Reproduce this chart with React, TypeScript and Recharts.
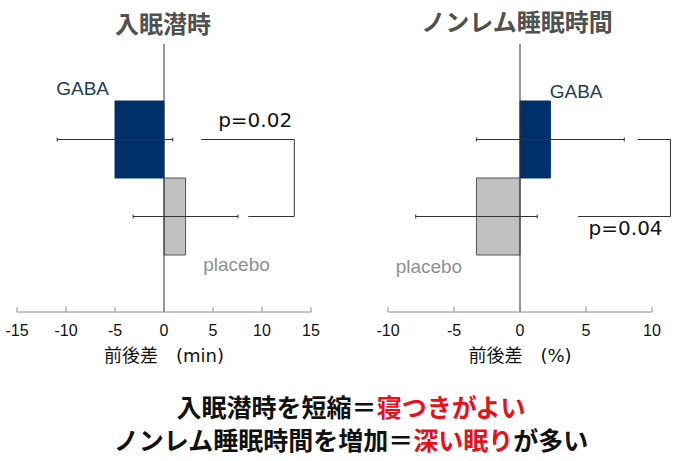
import React from 'react';
import { BarChart, Bar, XAxis, YAxis, Cell, ErrorBar, ReferenceLine, ReferenceDot } from 'recharts';

// ---- data ----
const categories = ['GABA', 'placebo'];
const latencyMeans = [-5.0, 2.2];
const latencyErrors = [5.9, 5.35];
const nremMeans = [2.3, -3.3];
const nremErrors = [5.6, 4.6];
const latencyTicks = [-15, -10, -5, 0, 5, 10, 15];
const nremTicks = [-10, -5, 0, 5, 10];
const latencyBracket = { topFrom: 3.8, bottomFrom: 8.6, side: 13.3 };
const nremBracket = { topFrom: 8.9, bottomFrom: 4.4, side: 11.4 };
const latencyP = 'p=0.02';
const nremP = 'p=0.04';
const latencyTitle = '入眠潜時';
const nremTitle = 'ノンレム睡眠時間';
const latencyAxisLabel = '前後差\u3000(min)';
const nremAxisLabel = '前後差\u3000(%)';

const NAVY = '#00306a';
const GREY_FILL = '#c0c0c0';
const LINE = '#333333';
const AXIS = '#8c8c8c';
const LATIN = "'Liberation Sans', Arial, sans-serif";
const PFONT = "'DejaVu Sans', 'Noto Sans CJK JP', sans-serif";
const CJK = "'Noto Sans CJK JP', sans-serif";

const colors = [NAVY, GREY_FILL];
const strokes = [NAVY, '#555555'];

function build(means: number[], errs: number[]) {
  return categories.map((name, i) => ({ name, value: means[i], err: errs[i] }));
}

const textLabel = (text: string, color: string, font: string, size: number, dy: number) =>
  (props: any) => {
    const vb = props.viewBox || {};
    return (
      <text x={vb.x} y={vb.y + dy} textAnchor="middle" fill={color} fontFamily={font} fontSize={size}>
        {text}
      </text>
    );
  };

interface PanelProps {
  data: any[];
  domain: [number, number];
  ticks: number[];
  margin: any;
  width: number;
  axisLabel: string;
  bracket: { topFrom: number; bottomFrom: number; side: number };
  pText: string;
  pX: number;
  pCat: string;
  pDy: number;
  gabaX: number;
  gabaDy: number;
  placeboX: number;
  placeboDy: number;
}

function Panel(p: PanelProps) {
  return (
    <BarChart
      width={p.width}
      height={380}
      data={p.data}
      layout="vertical"
      margin={p.margin}
      barCategoryGap={0}
      style={{ overflow: 'visible' }}
    >
      <XAxis
        type="number"
        domain={p.domain}
        ticks={p.ticks}
        interval={0}
        height={50}
        axisLine={{ stroke: AXIS }}
        tickLine={{ stroke: AXIS }}
        tickSize={-5}
        tickMargin={18}
        tick={{ fill: '#111', fontSize: 16, fontFamily: LATIN }}
        label={{ value: p.axisLabel, position: 'insideBottom', offset: 0, fill: '#111', fontSize: 18, fontFamily: PFONT }}
      />
      <YAxis type="category" dataKey="name" hide padding={{ top: 57, bottom: 57 }} />
      <ReferenceLine x={0} stroke={LINE} strokeWidth={1} />
      <Bar dataKey="value" isAnimationActive={false}>
        {p.data.map((d, i) => (
          <Cell key={d.name} fill={colors[i]} stroke={strokes[i]} strokeWidth={1} />
        ))}
        <ErrorBar dataKey="err" direction="x" width={2} stroke={LINE} strokeWidth={1} />
      </Bar>
      <ReferenceLine
        ifOverflow="visible"
        segment={[{ x: p.bracket.topFrom, y: 'GABA' }, { x: p.bracket.side, y: 'GABA' }]}
        stroke={LINE}
      />
      <ReferenceLine
        ifOverflow="visible"
        segment={[{ x: p.bracket.side, y: 'GABA' }, { x: p.bracket.side, y: 'placebo' }]}
        stroke={LINE}
      />
      <ReferenceLine
        ifOverflow="visible"
        segment={[{ x: p.bracket.bottomFrom, y: 'placebo' }, { x: p.bracket.side, y: 'placebo' }]}
        stroke={LINE}
      />
      <ReferenceDot x={p.pX} y={p.pCat} r={0} ifOverflow="visible" label={textLabel(p.pText, '#111', PFONT, 20, p.pDy)} />
      <ReferenceDot x={p.gabaX} y="GABA" r={0} ifOverflow="visible" label={textLabel('GABA', '#1d3c60', LATIN, 19, p.gabaDy)} />
      <ReferenceDot x={p.placeboX} y="placebo" r={0} ifOverflow="visible" label={textLabel('placebo', '#8f8f8f', LATIN, 19, p.placeboDy)} />
    </BarChart>
  );
}

export default function App() {
  const latencyData = build(latencyMeans, latencyErrors);
  const nremData = build(nremMeans, nremErrors);
  const titleStyle: React.CSSProperties = {
    position: 'absolute', top: 6, fontFamily: CJK, fontWeight: 700, fontSize: 24,
    color: '#505050', lineHeight: '34px', textAlign: 'center', whiteSpace: 'nowrap',
  };
  const bottomStyle: React.CSSProperties = {
    position: 'absolute', left: 0, width: 702, fontFamily: CJK, fontWeight: 700, fontSize: 25,
    color: '#111', lineHeight: '33px', textAlign: 'center', whiteSpace: 'nowrap',
  };
  const red = { color: '#e8101a' };
  return (
    <div style={{ position: 'absolute', left: 0, top: 0, width: 684, height: 461, background: '#fff', overflow: 'hidden' }}>
      <div style={{ position: 'absolute', left: 0, top: 0 }}>
        <Panel
          data={latencyData}
          domain={[-15, 15]}
          ticks={latencyTicks}
          width={340}
          margin={{ top: 44, left: 17, right: 29, bottom: 18 }}
          axisLabel={latencyAxisLabel}
          bracket={latencyBracket}
          pText={latencyP}
          pX={9.3}
          pCat="GABA"
          pDy={-13}
          gabaX={-8.3}
          gabaDy={-45}
          placeboX={7.4}
          placeboDy={54}
        />
      </div>
      <div style={{ position: 'absolute', left: 340, top: 0 }}>
        <Panel
          data={nremData}
          domain={[-10, 10]}
          ticks={nremTicks}
          width={344}
          margin={{ top: 44, left: 48, right: 32, bottom: 18 }}
          axisLabel={nremAxisLabel}
          bracket={nremBracket}
          pText={nremP}
          pX={8.0}
          pCat="placebo"
          pDy={18}
          gabaX={4.25}
          gabaDy={-42}
          placeboX={-6.9}
          placeboDy={56}
        />
      </div>
      <div style={{ ...titleStyle, left: 63, width: 200 }}>{latencyTitle}</div>
      <div style={{ ...titleStyle, left: 367, width: 300, top: 4 }}>{nremTitle}</div>
      <div style={{ ...bottomStyle, top: 390 }}>
        入眠潜時を短縮＝<span style={red}>寝つきがよい</span>
      </div>
      <div style={{ ...bottomStyle, top: 423 }}>
        ノンレム睡眠時間を増加＝<span style={red}>深い眠り</span>が多い
      </div>
    </div>
  );
}
